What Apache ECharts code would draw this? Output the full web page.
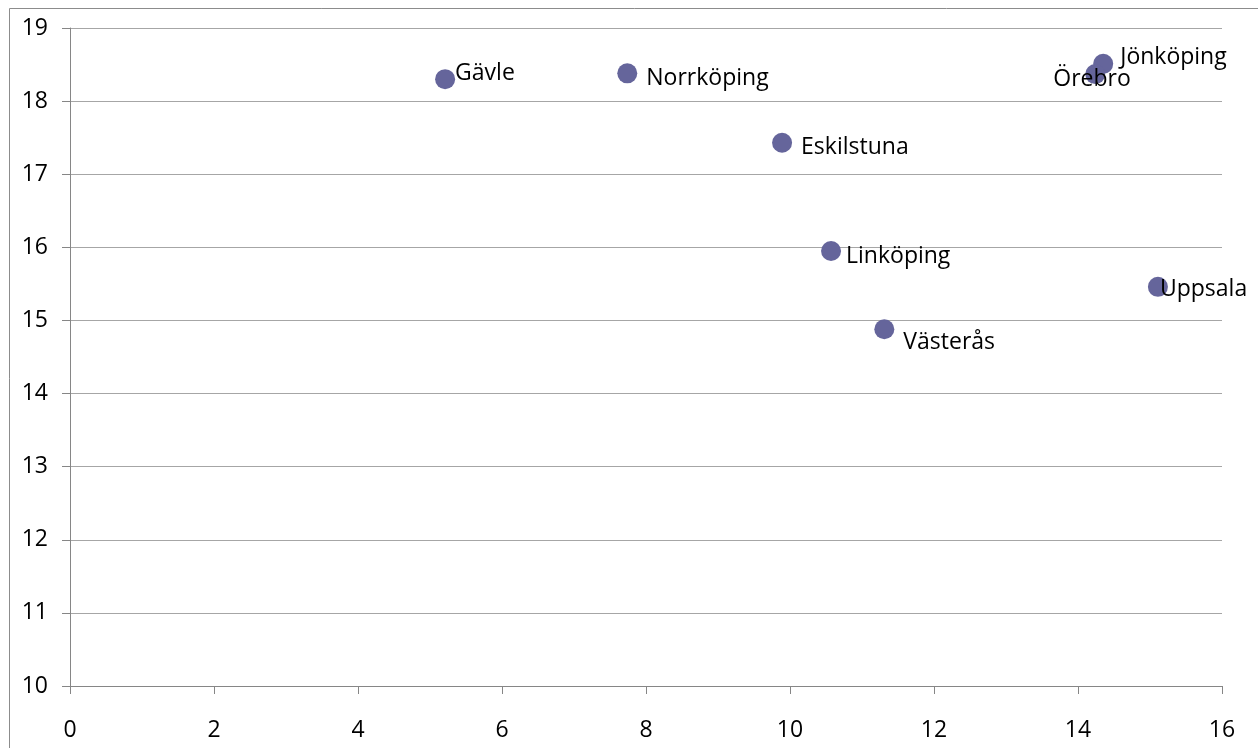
<!DOCTYPE html>
<html><head><meta charset="utf-8">
<script src="https://cdn.jsdelivr.net/npm/echarts@6/dist/echarts.min.js"></script>
<style>html,body{margin:0;padding:0;background:#fff}#c{width:1258px;height:748px}</style>
</head><body><div id="c"></div>
<script>
const cities = ['Gävle','Norrköping','Eskilstuna','Linköping','Västerås','Uppsala','Jönköping','Örebro'];
const xValues = [5.21, 7.74, 9.89, 10.57, 11.31, 15.11, 14.35, 14.24];
const yValues = [18.30, 18.38, 17.43, 15.95, 14.88, 15.46, 18.51, 18.37];
// label placement (style only)
const labelOffsets = [[0,-6],[9,5],[9,5],[5,5],[9,13],[-8,3],[7,-6],[-52,5]];

const data = cities.map((c,i)=>({
  name:c, value:[xValues[i], yValues[i]],
  label:{offset:labelOffsets[i]}
}));

const chart = echarts.init(document.getElementById('c'));
chart.setOption({
  animation:false,
  backgroundColor:'#fff',
  graphic:[{type:'rect',shape:{x:9.5,y:8.5,width:1400,height:900},style:{fill:'none',stroke:'#8c8c8c',lineWidth:1},silent:true}],
  grid:{left:70,right:36,top:28,bottom:62},
  xAxis:{type:'value',min:0,max:16,interval:2,
    axisLine:{show:true,lineStyle:{color:'#868686'}},
    axisTick:{show:true,length:8,lineStyle:{color:'#868686'}},
    splitLine:{show:false},
    axisLabel:{fontFamily:'Open Sans',fontSize:23,color:'#000',margin:33}},
  yAxis:{type:'value',min:10,max:19,interval:1,
    axisLine:{show:true,onZero:false,lineStyle:{color:'#868686'}},
    axisTick:{show:true,length:8,lineStyle:{color:'#868686'}},
    splitLine:{show:true,lineStyle:{color:'#a6a6a6'}},
    axisLabel:{fontFamily:'Open Sans',fontSize:23,color:'#000',margin:22}},
  series:[{type:'scatter',symbolSize:20,
    itemStyle:{color:'#65659b',opacity:1},
    label:{show:true,position:'right',distance:0,formatter:'{b}',
      fontFamily:'Open Sans',fontSize:23,color:'#000'},
    data:data}]
});
</script></body></html>
